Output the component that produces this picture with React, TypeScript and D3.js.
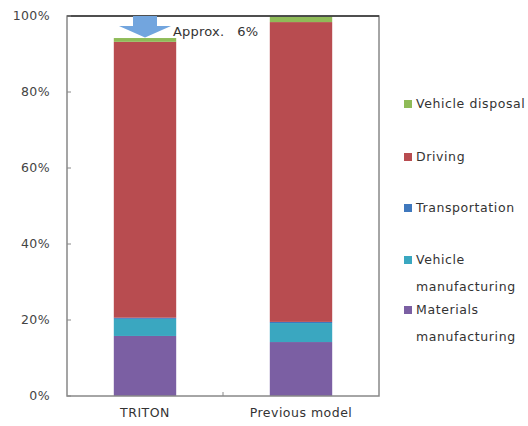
import React from "react";
import * as d3 from "d3";

const categories = ["TRITON", "Previous model"];
const seriesNames = [
  "Materials manufacturing",
  "Vehicle manufacturing",
  "Transportation",
  "Driving",
  "Vehicle disposal",
];
const materials = [15.8, 14.2];
const vehicleMfg = [4.5, 5.0];
const transportation = [0.3, 0.3];
const driving = [72.6, 78.9];
const disposal = [1.0, 1.6];
const yTicks = [0, 20, 40, 60, 80, 100];
const colors = ["#7b5fa3", "#3aa7c0", "#3f78bd", "#b84c50", "#8fbb58"];
const legendLines: string[][] = [
  ["Vehicle disposal"],
  ["Driving"],
  ["Transportation"],
  ["Vehicle", "manufacturing"],
  ["Materials", "manufacturing"],
];
const legendColorIdx = [4, 3, 2, 1, 0];
const annotation = "Approx.\u00a0\u00a0 6%";

export default function App() {
  const W = 528, H = 426;
  const left = 67, right = 379, top = 16, bottom = 396;
  const x = d3.scaleBand<string>().domain(categories).range([left, right]).paddingInner(0.6).paddingOuter(0.3);
  const y = d3.scaleLinear().domain([0, 100]).range([bottom, top]);
  const table = categories.map((c, i) => ({
    cat: c,
    "Materials manufacturing": materials[i],
    "Vehicle manufacturing": vehicleMfg[i],
    Transportation: transportation[i],
    Driving: driving[i],
    "Vehicle disposal": disposal[i],
  }));
  const stacked = d3.stack<any>().keys(seriesNames)(table);
  const font = "'DejaVu Sans', Verdana, sans-serif";
  const bw = x.bandwidth();
  const tx = (x("TRITON") as number) + bw / 2;
  const tritonTop = y(d3.sum(stacked.map((s) => s[0][1] - s[0][0])) as number);
  const arrow = d3.path();
  arrow.moveTo(tx - 12, top);
  arrow.lineTo(tx + 12, top);
  arrow.lineTo(tx + 12, top + 10);
  arrow.lineTo(tx + 26, top + 10);
  arrow.lineTo(tx, tritonTop - 0.5);
  arrow.lineTo(tx - 26, top + 10);
  arrow.lineTo(tx - 12, top + 10);
  arrow.closePath();
  const legendRowsY = [104, 157, 208, 260, 310];
  return (
    <svg width={W} height={H} style={{ position: "absolute", left: 0, top: 0, background: "#fff" }}>
      {stacked.map((s, si) =>
        s.map((d, i) => (
          <rect
            key={si + "-" + i}
            x={x(categories[i])}
            width={bw}
            y={y(d[1])}
            height={y(d[0]) - y(d[1])}
            fill={colors[si]}
          />
        ))
      )}
      <rect x={left} y={top} width={right - left} height={bottom - top} fill="none" stroke="#888" strokeWidth={1.5} />
      <line x1={left} x2={right} y1={top} y2={top} stroke="#333" strokeWidth={1.5} />
      {yTicks.map((t) => (
        <g key={t}>
          <line x1={left} x2={left + 4} y1={y(t)} y2={y(t)} stroke="#888" />
          <text x={50} y={y(t)} dy="0.35em" textAnchor="end" fontFamily={font} fontSize={12.5} letterSpacing={0.4} fill="#444">
            {t + "%"}
          </text>
        </g>
      ))}
      <line x1={(left + right) / 2} x2={(left + right) / 2} y1={bottom} y2={bottom - 4} stroke="#888" />
      {categories.map((c) => (
        <text key={c} x={(x(c) as number) + bw / 2} y={417} textAnchor="middle" fontFamily={font} fontSize={12.5} letterSpacing={0.5} fill="#333">
          {c}
        </text>
      ))}
      <path d={arrow.toString()} fill="#72a5de" />
      <text x={173} y={36} fontFamily={font} fontSize={13} letterSpacing={0.2} fill="#333">
        {annotation}
      </text>
      {legendLines.map((lines, li) => (
        <g key={li}>
          <rect x={404} y={legendRowsY[li] - 4} width={8} height={8} fill={colors[legendColorIdx[li]]} />
          {lines.map((ln, k) => (
            <text key={k} x={416} y={legendRowsY[li] + k * 27} dy="0.35em" fontFamily={font} fontSize={12.5} letterSpacing={0.6} fill="#333">
              {ln}
            </text>
          ))}
        </g>
      ))}
    </svg>
  );
}
